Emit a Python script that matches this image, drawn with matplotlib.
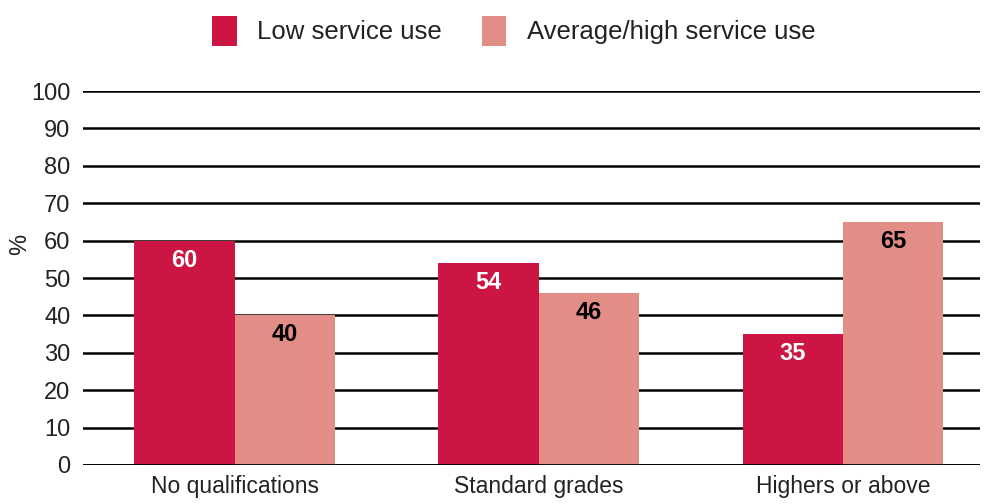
import numpy as np
from matplotlib import pyplot as plt

plt.rcParams.update({
    "font.family": ["Liberation Sans", "DejaVu Sans"],
})

categories = ["No qualifications", "Standard grades", "Highers or above"]
low_use = [60, 54, 35]
high_use = [40, 46, 65]
series_names = ["Low service use", "Average/high service use"]

red = "#CC1543"
pink = "#E28E87"
text_col = "#222222"

fig = plt.figure(figsize=[9.86, 5.04], dpi=100)
ax = fig.add_axes([0.0842, 0.0774, 0.9097, 0.742])

x = np.arange(len(categories))
w = 0.33
b1 = ax.bar(x - w / 2, low_use, w, color=red, label=series_names[0], zorder=3)
b2 = ax.bar(x + w / 2, high_use, w, color=pink, label=series_names[1], zorder=3)

for bars, vals, col in [(b1, low_use, "white"), (b2, high_use, "black")]:
    for r, v in zip(bars, vals):
        ax.text(r.get_x() + r.get_width() / 2, v - 5.2, str(v), ha="center", va="center",
                fontsize=17, fontweight="bold", color=col, zorder=4)

ax.set_ylim(0, 100)
ax.set_xlim(-0.498, 2.45)
ax.set_yticks(range(0, 101, 10))
ax.yaxis.grid(True, color="black", linewidth=1.8, zorder=1)
ax.axhline(0, color="black", linewidth=2, zorder=5)
ax.set_axisbelow(True)
for s in ax.spines.values():
    s.set_visible(False)
ax.tick_params(axis="both", length=0, labelsize=17, colors=text_col)
ax.tick_params(axis="y", pad=9)
ax.tick_params(axis="x", labelsize=16.5, pad=7)
ax.set_xticks(x)
ax.set_xticklabels(categories)
ax.set_ylabel("%", fontsize=17, color=text_col)
ax.yaxis.set_label_coords(-0.058, 0.59)

fig.legend(loc="upper center", bbox_to_anchor=(0.521, 1.014), ncol=2, frameon=False,
           fontsize=18.5, handlelength=0.95, handleheight=1.4, handletextpad=0.8,
           columnspacing=1.55, labelcolor=text_col)

fig.savefig("out.png", dpi=100)
